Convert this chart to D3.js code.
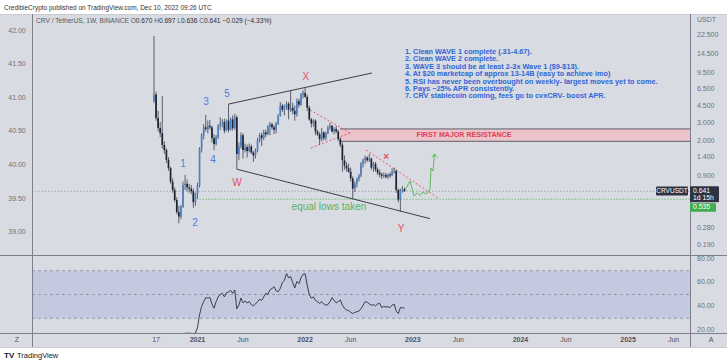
<!DOCTYPE html>
<html><head><meta charset="utf-8">
<script src="https://cdn.jsdelivr.net/npm/d3@7"></script>
<style>
html,body{margin:0;padding:0;background:#fff;}
svg{display:block;font-family:"Liberation Sans",Arial,sans-serif;}
</style></head><body>
<svg id="c" width="727" height="363"></svg>
<script>
// ---------------- DATA ----------------
const firstWeek = "2020-08-10"; // weekly candles, Monday open
const opens = [5.00,5.80,3.40,2.71,2.41,1.84,1.64,1.31,1.09,0.80,0.66,0.525,0.40,0.36,0.45,0.74,0.76,0.70,0.68,0.64,
0.50,0.60,0.73,1.68,2.30,2.75,2.65,2.85,2.75,2.15,1.88,2.20,2.85,3.05,3.10,2.55,3.20,2.60,3.30,2.70,
3.45,1.50,1.78,2.30,1.64,1.75,1.60,1.78,1.55,1.45,1.62,2.05,2.30,2.15,2.45,2.35,2.80,2.95,2.75,2.60,
3.00,3.60,4.50,4.10,4.40,4.70,4.10,4.30,4.00,3.70,5.00,4.60,5.80,6.00,5.50,4.30,3.30,3.00,3.20,2.50,
2.35,2.10,2.45,2.15,2.40,2.75,2.85,2.50,2.65,2.50,2.10,1.85,1.30,1.15,1.08,1.00,0.86,0.68,0.76,0.85,
0.92,1.20,1.30,1.38,1.30,1.35,1.10,1.20,1.05,0.98,0.94,0.91,0.93,0.89,0.94,0.92,1.00,1.02,0.66,0.53,
0.67,0.670];
const highs = [22.0,6.20,4.00,3.10,5.60,2.00,1.70,1.40,1.12,0.86,0.70,0.56,0.46,0.47,0.80,0.93,0.84,0.76,0.74,0.68,
0.62,0.78,1.75,2.40,2.95,3.65,3.20,3.25,2.85,2.35,2.30,2.95,3.45,3.30,3.35,3.30,4.67,3.45,3.60,3.75,
3.60,1.95,2.45,2.40,1.90,1.85,1.90,1.85,1.60,1.70,2.15,2.40,2.45,2.60,2.60,2.90,3.10,3.05,2.90,3.10,
3.70,4.90,4.70,4.60,4.95,4.90,6.40,4.80,4.50,5.30,5.30,6.00,6.40,6.76,5.80,4.50,3.40,3.30,3.30,2.60,
2.45,2.70,2.50,2.50,2.85,3.06,2.90,2.75,2.85,2.60,2.20,1.95,1.45,1.25,1.20,1.10,0.90,0.80,0.88,0.95,
1.25,1.35,1.45,1.42,1.50,1.38,1.25,1.25,1.10,1.05,0.98,0.98,0.97,0.96,0.98,1.08,1.10,1.05,0.68,0.68,
0.72,0.697];
const lows = [4.80,3.20,2.50,2.20,1.70,1.50,1.22,1.02,0.76,0.62,0.50,0.38,0.31,0.34,0.44,0.66,0.64,0.62,0.60,0.44,
0.46,0.535,0.70,1.55,2.10,2.50,2.40,2.60,1.95,1.64,1.82,2.10,2.60,2.75,2.40,2.50,2.45,2.55,2.55,2.60,
1.06,1.30,1.70,1.35,1.55,1.38,1.55,1.50,1.25,1.35,1.55,1.95,1.80,2.05,2.20,2.30,2.30,2.60,2.35,2.40,
2.90,3.50,3.90,3.60,4.10,3.30,3.90,3.70,3.20,3.50,4.30,4.50,5.30,5.40,4.00,3.20,2.74,2.80,2.30,2.25,
1.85,2.00,2.05,2.05,2.35,2.60,2.45,2.35,2.40,2.00,1.75,1.00,1.05,1.00,0.98,0.80,0.535,0.63,0.70,0.80,
0.88,1.10,1.20,1.25,1.25,1.05,1.00,1.00,0.93,0.88,0.85,0.87,0.86,0.85,0.87,0.90,0.96,0.62,0.50,0.40,
0.62,0.636];
const closes = [5.80,3.40,2.71,2.41,1.84,1.64,1.31,1.09,0.80,0.66,0.525,0.40,0.36,0.45,0.74,0.76,0.70,0.68,0.64,0.50,
0.60,0.73,1.68,2.30,2.75,2.65,2.85,2.75,2.15,1.88,2.20,2.85,3.05,3.10,2.55,3.20,2.60,3.30,2.70,3.45,
1.50,1.78,2.30,1.64,1.75,1.60,1.78,1.55,1.45,1.62,2.05,2.30,2.15,2.45,2.35,2.80,2.95,2.75,2.60,3.00,
3.60,4.50,4.10,4.40,4.70,4.10,4.30,4.00,3.70,5.00,4.60,5.80,6.00,5.50,4.30,3.30,3.00,3.20,2.50,2.35,
2.10,2.45,2.15,2.40,2.75,2.85,2.50,2.65,2.50,2.10,1.85,1.30,1.15,1.08,1.00,0.86,0.68,0.76,0.85,0.92,
1.20,1.30,1.38,1.30,1.35,1.10,1.20,1.05,0.98,0.94,0.91,0.93,0.89,0.94,0.92,1.00,1.02,0.66,0.53,0.67,
0.670,0.641];
const rsiFirstIndex = 15;
const rsiValues = [17.5,17.4,17.5,17.3,17.2,17.6,22,33,40,44,47.5,47,47.5,42,38.5,44,48,50,51,48,
51.5,52,53.5,51,53.8,38,41,47,43,44.5,43,44,41.5,40.5,42,44,46,45,48,51,
50,54,55,56.5,53,52.5,55,60,62,67.5,64,65,60,55.5,61,59,64,67,67.5,58,
50,47,48,45,44,42.5,44,42,41,41.5,44,47.3,45,43,44,45.4,41,38.4,37,36.5,
35,34,35,35.5,36,38,41,44,43.5,42,41,41.5,40.5,42,42.6,39,40,39.5,39.7,39,
41,42,36,34,39,38.9,38.4];
const priceTicks = [22.5,14.5,9.5,6.5,4.5,3.0,2.0,1.4,0.9,0.46,0.28,0.19];
const leftTicks = [42,41.5,41,40.5,40,39.5,39];
const rsiTicks = [80,60,40,20];
const timeTickDates = ["2020-08-17","2021-01-04","2021-06-07","2022-01-03","2022-06-06","2023-01-02","2023-06-05","2024-01-01","2024-06-03","2024-12-30","2025-06-02"];
const timeTickLabels = ["17","2021","Jun","2022","Jun","2023","Jun","2024","Jun","2025","Jun"];
const notes = ["1. Clean WAVE 1 complete (.31-4.67).","2. Clean WAVE 2 complete.","3. WAVE 3 should be at least 2-3x Wave 1 ($9-$13).","4. At $20 marketcap of approx 13-14B (easy to achieve imo)","5. RSI has never been overbought on weekly- largest moves yet to come.","6. Pays ~25% APR consistently.","7. CRV stablecoin coming, fees go to cvxCRV- boost APR."];
const lastPrice = 0.641, equalLow = 0.535;
const resistance = [2.0, 2.65];
// drawings in (week index, price)
const upperWedge = [[36,4.67],[105.3,9.47]];
const lowerWedge = [[40,1.06],[133.3,0.344]];
const redTriUpper = [[75.4,4.08],[94.7,2.42]];
const redTriLower = [[75.8,1.72],[94.7,2.42]];
const redDiag = [[102.4,1.64],[137.2,0.55]];
const projection = [[121.3,0.66],[123.7,0.81],[125.6,0.576],[127.1,0.617],[128.5,0.582],[129.9,0.631],[131.4,0.603],[133.3,0.66],[133.8,1.089],[134.8,1.017],[135.5,1.50]];
const waveLabels = [["1",14,1.19,"b"],["2",19.8,0.311,"b"],["3",25.1,4.89,"b"],["4",28.5,1.31,"b"],["5",35.3,5.87,"b"],["W",40.1,0.774,"r"],["X",73.4,8.65,"r"],["Y",119.3,0.272,"r"]];

// ---------------- CHART ----------------
const svg = d3.select("#c");
const W=727,H=363, L=32, R=690, T=14, MB=255, RB=333, AB=347;
const bg="#d9dbe3", lineC="#7d808a";
const weekDate = i => new Date(Date.parse(firstWeek+"T00:00:00Z") + i*7*864e5);
const x = d3.scaleUtc().domain([weekDate(0), weekDate(121)]).range([154, 404.5]);
const xi = i => x(weekDate(i));
const y = d3.scaleLog().domain([0.19, 22.5]).range([244.7, 35]);
const yL = d3.scaleLinear().domain([39, 42]).range([232.3, 30.7]);
const ry = d3.scaleLinear().domain([30, 70]).range([318.3, 270.7]);

svg.append("rect").attr("x",0).attr("y",0).attr("width",W).attr("height",H).attr("fill","#fff");
svg.append("rect").attr("x",0).attr("y",T).attr("width",W).attr("height",AB-T).attr("fill",bg);

const defs = svg.append("defs");
defs.append("clipPath").attr("id","mainClip").append("rect").attr("x",L).attr("y",T).attr("width",R-L).attr("height",MB-T);
defs.append("clipPath").attr("id","rsiClip").append("rect").attr("x",L).attr("y",MB+1).attr("width",R-L).attr("height",RB-MB-1);

// RSI band
const rsiG = svg.append("g").attr("clip-path","url(#rsiClip)");
rsiG.append("rect").attr("x",L).attr("width",R-L).attr("y",ry(70)).attr("height",ry(30)-ry(70)).attr("fill","#c3c9de");
[70,50,30].forEach(v=>rsiG.append("line").attr("x1",L).attr("x2",R).attr("y1",ry(v)).attr("y2",ry(v))
  .attr("stroke","#8a8d99").attr("stroke-dasharray","3,3").attr("stroke-width",0.8));
const rsiData = rsiValues.map((v,k)=>({i:k+rsiFirstIndex, v}));
rsiG.append("path").datum(rsiData).attr("fill","none").attr("stroke","#2b2f3a").attr("stroke-width",0.9)
  .attr("d", d3.line().x(d=>xi(d.i)).y(d=>ry(d.v)));

// main pane
const mg = svg.append("g").attr("clip-path","url(#mainClip)");
// resistance box
mg.append("rect").attr("x",340).attr("width",R-340).attr("y",y(resistance[1])).attr("height",y(resistance[0])-y(resistance[1]))
  .attr("fill","#ecc3cb");
[resistance[0],resistance[1]].forEach(p=>mg.append("line").attr("x1",340).attr("x2",R).attr("y1",y(p)).attr("y2",y(p)).attr("stroke","#5e616c").attr("stroke-width",1));
mg.append("text").attr("class","fmr").attr("x",464).attr("y",y(2.3)).attr("text-anchor","middle").attr("dominant-baseline","middle")
  .attr("fill","#e0404f").attr("font-weight","bold").attr("font-size",7.5).text("FIRST MAJOR RESISTANCE");

// dotted lines
mg.append("line").attr("x1",L).attr("x2",R).attr("y1",y(lastPrice)).attr("y2",y(lastPrice)).attr("stroke","#9b9ea8").attr("stroke-dasharray","1.2,2").attr("stroke-width",1);
mg.append("line").attr("x1",xi(22)).attr("x2",R).attr("y1",y(equalLow)).attr("y2",y(equalLow)).attr("stroke","#5cb85c").attr("stroke-dasharray","1.2,1.8").attr("stroke-width",1);

const lineGen = d3.line().x(d=>xi(d[0])).y(d=>y(d[1]));
mg.append("path").datum(upperWedge).attr("d",lineGen).attr("stroke","#2a2e38").attr("stroke-width",0.9).attr("fill","none");
mg.append("path").datum(lowerWedge).attr("d",lineGen).attr("stroke","#2a2e38").attr("stroke-width",0.9).attr("fill","none");
[redTriUpper, redTriLower, redDiag].forEach(seg=>mg.append("path").datum(seg).attr("d",lineGen)
  .attr("stroke","#e4576a").attr("stroke-width",1).attr("stroke-dasharray","2,2").attr("fill","none"));

// candles
const candles = closes.map((c,i)=>({i, o:opens[i], h:highs[i], l:lows[i], c}));
mg.selectAll("line.wick").data(candles).join("line").attr("class","wick")
  .attr("x1",d=>xi(d.i)).attr("x2",d=>xi(d.i)).attr("y1",d=>y(d.h)).attr("y2",d=>y(d.l))
  .attr("stroke","#4a505d").attr("stroke-width",0.9);
mg.selectAll("rect.body").data(candles).join("rect").attr("class","body")
  .attr("x",d=>xi(d.i)-0.85).attr("width",1.7)
  .attr("y",d=>Math.min(y(d.o),y(d.c))).attr("height",d=>Math.max(1,Math.abs(y(d.o)-y(d.c))))
  .attr("fill",d=>d.c>=d.o?"#4f80c2":"#1d2332");

// projection
mg.append("path").datum(projection).attr("d",lineGen).attr("stroke","#5cb85c").attr("stroke-width",1).attr("fill","none");
const tip = projection[projection.length-1];
mg.append("path").attr("d",`M${xi(tip[0])-2.5},${y(tip[1])+3.5}L${xi(tip[0])},${y(tip[1])}L${xi(tip[0])+2.5},${y(tip[1])+3.5}`)
  .attr("stroke","#5cb85c").attr("stroke-width",1).attr("fill","none");

// labels
waveLabels.forEach(([t,i,p,c])=>mg.append("text").attr("x",xi(i)).attr("y",y(p)).attr("text-anchor","middle").attr("dominant-baseline","middle")
  .attr("font-size",10).attr("fill",c==="b"?"#4a7fe0":"#e0505e").text(t));
mg.append("text").attr("x",xi(112.1)).attr("y",y(1.40)).attr("text-anchor","middle").attr("dominant-baseline","middle")
  .attr("font-size",10).attr("font-weight","bold").attr("fill","#e0505e").text("×");
mg.append("text").attr("class","elt").attr("x",xi(84.5)).attr("y",y(0.448)).attr("text-anchor","middle").attr("dominant-baseline","middle")
  .attr("font-size",10).attr("fill","#58b35c").text("equal lows taken");

// notes
const ng = mg.append("g");
notes.forEach((t,k)=>ng.append("text").attr("x",405).attr("y",52+k*7.4).attr("dominant-baseline","middle")
  .attr("font-size",7.5).attr("font-weight","bold").attr("fill","#2f65d6").text(t));

// fit helper
function fit(sel, target){ const n=sel.node(); const w=n.getComputedTextLength(); const fs=+sel.attr("font-size"); sel.attr("font-size", fs*target/w); }
{ const nodes = ng.selectAll("text").nodes(); const w=nodes[4].getComputedTextLength(); const fs=7.5*253/w; ng.selectAll("text").attr("font-size",fs); }
fit(mg.select("text.fmr"), 95);
fit(mg.select("text.elt"), 75);

// pane separators & axis lines
svg.append("line").attr("x1",0).attr("x2",W).attr("y1",MB+0.5).attr("y2",MB+0.5).attr("stroke",lineC);
svg.append("line").attr("x1",0).attr("x2",W).attr("y1",RB+0.5).attr("y2",RB+0.5).attr("stroke",lineC);
svg.append("line").attr("x1",0).attr("x2",W).attr("y1",T+0.5).attr("y2",T+0.5).attr("stroke","#c9cbd3");
svg.append("line").attr("x1",0).attr("x2",W).attr("y1",AB+0.5).attr("y2",AB+0.5).attr("stroke","#c9cbd3");
svg.append("line").attr("x1",L+0.5).attr("x2",L+0.5).attr("y1",T).attr("y2",AB).attr("stroke",lineC);
svg.append("line").attr("x1",R+0.5).attr("x2",R+0.5).attr("y1",T).attr("y2",AB).attr("stroke",lineC);

// left axis
leftTicks.forEach(v=>svg.append("text").attr("x",17).attr("y",yL(v)).attr("text-anchor","middle").attr("dominant-baseline","middle")
  .attr("font-size",7).attr("fill","#6e717b").text(v.toFixed(2)));
// right axis
svg.append("text").attr("x",697).attr("y",20).attr("dominant-baseline","middle").attr("font-size",7).attr("fill","#6e717b").text("USDT");
priceTicks.forEach(v=>svg.append("text").attr("x",697).attr("y",y(v)).attr("dominant-baseline","middle")
  .attr("font-size",7).attr("fill","#6e717b").text(v.toFixed(3)));
rsiTicks.forEach(v=>svg.append("text").attr("x",697).attr("y",ry(v)).attr("dominant-baseline","middle")
  .attr("font-size",7).attr("fill","#6e717b").text(v.toFixed(2)));

// price labels
const yp = y(lastPrice);
svg.append("rect").attr("x",656).attr("y",yp-4.8).attr("width",32).attr("height",9).attr("fill","#2f3240").attr("rx",1);
svg.append("text").attr("x",672).attr("y",yp).attr("text-anchor","middle").attr("dominant-baseline","middle").attr("font-size",6.5).attr("fill","#fff").text("CRVUSDT");
svg.append("rect").attr("x",690).attr("y",yp-5).attr("width",29).attr("height",16).attr("fill","#2f3240").attr("rx",1);
svg.append("text").attr("x",693).attr("y",yp).attr("dominant-baseline","middle").attr("font-size",6.8).attr("fill","#fff").text(lastPrice.toFixed(3));
svg.append("text").attr("x",693).attr("y",yp+7).attr("dominant-baseline","middle").attr("font-size",6.8).attr("fill","#fff").text("1d 15h");
svg.append("rect").attr("x",690).attr("y",yp+12).attr("width",26).attr("height",8.5).attr("fill","#3fae4f").attr("rx",1);
svg.append("text").attr("x",693).attr("y",yp+16.3).attr("dominant-baseline","middle").attr("font-size",6.8).attr("fill","#fff").text(equalLow.toFixed(3));

// time axis
timeTickDates.forEach((d,k)=>{
  const px = x(new Date(d+"T00:00:00Z"));
  svg.append("text").attr("x",px).attr("y",340).attr("text-anchor","middle").attr("dominant-baseline","middle")
    .attr("font-size",7).attr("fill","#4e515b").attr("font-weight",timeTickLabels[k].length===4?"bold":"normal").text(timeTickLabels[k]);
});
svg.append("text").attr("x",17).attr("y",340).attr("text-anchor","middle").attr("dominant-baseline","middle").attr("font-size",7).attr("fill","#4e515b").text("Z");
svg.append("text").attr("x",711).attr("y",340).attr("text-anchor","middle").attr("dominant-baseline","middle").attr("font-size",7).attr("fill","#4e515b").text("A");

// header
const h1 = svg.append("text").attr("x",4).attr("y",8).attr("dominant-baseline","middle").attr("font-size",7).attr("fill","#333").text("CredibleCrypto published on TradingView.com, Dec 10, 2022 09:26 UTC");
fit(h1, 208);
const h2 = svg.append("text").attr("x",36).attr("y",21).attr("dominant-baseline","middle").attr("font-size",7).attr("fill","#555a66");
h2.append("tspan").text("CRV / TetherUS, 1W, BINANCE  O");
h2.append("tspan").attr("fill","#2a2e39").text(opens[121].toFixed(3));
h2.append("tspan").text(" H");
h2.append("tspan").attr("fill","#2a2e39").text(highs[121].toFixed(3));
h2.append("tspan").text(" L");
h2.append("tspan").attr("fill","#2a2e39").text(lows[121].toFixed(3));
h2.append("tspan").text(" C");
h2.append("tspan").attr("fill","#2a2e39").text(closes[121].toFixed(3));
h2.append("tspan").attr("fill","#2a2e39").text(" \u2212" + (opens[121]-closes[121]).toFixed(3) + " (\u2212" + ((opens[121]-closes[121])/opens[121]*100).toFixed(2) + "%)");
fit(h2, 236);

// footer logo
svg.append("text").attr("x",4).attr("y",356).attr("dominant-baseline","middle").attr("font-size",8).attr("font-weight",900).attr("fill","#131722").text("TV");
svg.append("text").attr("x",17).attr("y",356).attr("dominant-baseline","middle").attr("font-size",7.5).attr("fill","#131722").text("TradingView");
</script>
</body></html>
